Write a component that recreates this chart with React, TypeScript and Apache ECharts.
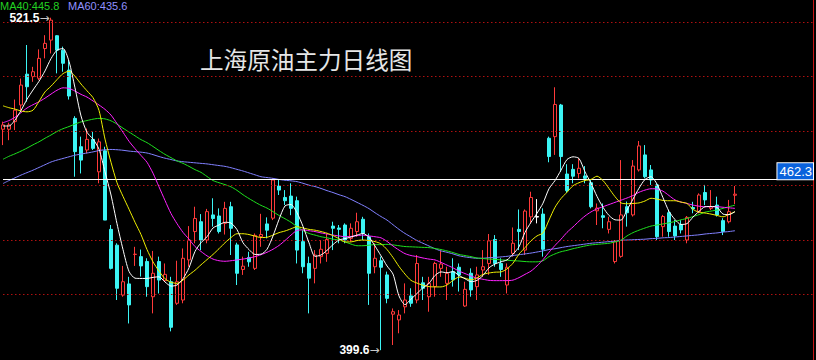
import React, { useEffect, useRef } from "react";
import * as echarts from "echarts";

// ---- data ----
const openP = [
  480.6, 480.6, 483.4, 489.5, 500.8, 499.9, 499.3, 510.2, 513.3, 514.9,
  509.6, 502.3, 484.6, 474.2, 473.0, 476.9, 465.0, 472.7, 443.9, 438.1,
  419.8, 423.9, 434.7, 433.9, 432.1, 419.2, 432.1, 425.1, 424.7, 416.8,
  418.0, 432.7, 443.1, 446.7, 440.0, 449.2, 448.8, 446.1, 452.2, 438.2,
  429.2, 433.6, 429.6, 441.2, 445.9, 448.0, 459.8, 455.6, 456.1, 454.4,
  439.4, 431.4, 429.6, 433.9, 435.1, 445.1, 444.4, 445.5, 440.6, 443.1,
  447.6, 441.2, 430.2, 432.4, 427.2, 412.8, 410.7, 415.5, 419.5, 418.0,
  424.3, 419.2, 422.9, 429.6, 424.1, 428.4, 430.0, 415.8, 427.8, 422.9,
  429.0, 431.4, 440.2, 431.4, 423.5, 435.1, 443.9, 436.3, 448.5, 448.4,
  449.5, 477.3, 477.9, 489.5, 464.2, 465.9, 464.4, 463.5, 461.0, 450.7,
  448.9, 443.9, 432.1, 434.0, 452.2, 449.2, 465.7, 471.2, 465.7, 460.2,
  444.9, 450.0, 445.1, 445.7, 440.0, 451.9, 450.4, 457.4, 451.6, 452.8,
  447.1, 446.7, 456.4,
];
const closeP = [
  482.2, 482.2, 487.6, 496.8, 496.2, 501.7, 506.6, 512.1, 520.6, 509.6,
  504.8, 492.8, 472.4, 469.3, 476.9, 473.6, 476.0, 447.3, 429.6, 422.3,
  424.7, 416.2, 434.8, 430.5, 422.9, 427.8, 425.3, 427.4, 408.0, 424.7,
  433.3, 440.0, 447.9, 440.0, 450.4, 447.9, 443.1, 451.6, 444.3, 427.8,
  430.4, 432.0, 441.7, 442.0, 443.6, 462.0, 458.3, 454.4, 451.6, 436.3,
  430.2, 426.0, 434.5, 436.6, 440.2, 444.3, 443.9, 440.0, 444.3, 446.7,
  442.4, 427.8, 433.3, 430.0, 418.6, 413.7, 412.5, 418.0, 416.8, 431.4,
  422.3, 424.1, 431.4, 431.2, 427.8, 425.4, 427.2, 421.9, 421.7, 427.2,
  430.2, 439.7, 431.4, 429.2, 430.0, 438.8, 443.1, 450.6, 455.6, 448.6,
  436.6, 470.6, 489.7, 470.6, 458.1, 463.4, 466.3, 462.6, 452.2, 451.7,
  448.3, 446.7, 439.4, 449.2, 450.0, 467.1, 474.5, 463.2, 462.0, 441.2,
  448.6, 443.1, 441.5, 443.7, 448.3, 451.4, 456.5, 454.7, 452.2, 449.2,
  443.1, 450.4, 456.8,
];
const lowP = [
  474.8, 476.6, 480.3, 487.6, 490.7, 498.0, 498.6, 506.6, 508.4, 501.1,
  501.7, 491.5, 463.2, 464.4, 471.8, 473.0, 460.8, 447.3, 429.2, 418.0,
  419.2, 409.4, 430.5, 426.6, 419.2, 413.1, 420.4, 424.7, 406.5, 416.2,
  416.8, 430.2, 438.8, 436.3, 438.8, 444.9, 442.4, 442.0, 434.5, 423.5,
  427.2, 430.2, 429.0, 437.5, 440.6, 447.3, 456.5, 452.8, 449.1, 431.4,
  427.8, 413.1, 424.1, 431.4, 432.0, 436.3, 438.8, 438.8, 439.4, 441.2,
  440.0, 416.2, 427.8, 399.6, 416.8, 401.5, 405.8, 413.1, 415.5, 416.8,
  418.0, 413.7, 419.2, 426.5, 418.0, 422.9, 421.1, 415.5, 419.2, 418.0,
  426.5, 427.2, 430.2, 426.5, 420.4, 433.9, 436.3, 434.5, 446.1, 446.1,
  433.9, 468.5, 471.2, 465.0, 457.3, 460.8, 462.6, 460.8, 451.6, 445.5,
  444.3, 442.4, 431.4, 433.5, 444.9, 448.6, 465.1, 462.6, 460.2, 440.0,
  441.2, 441.2, 440.0, 442.4, 438.8, 449.8, 449.8, 452.8, 451.0, 448.6,
  441.8, 446.1, 453.2,
];
const highP = [
  483.4, 483.0, 491.5, 499.2, 511.5, 503.5, 509.9, 515.1, 521.5, 515.1,
  510.9, 506.0, 485.4, 477.9, 480.9, 479.7, 477.2, 474.2, 445.5, 438.8,
  430.5, 426.5, 437.5, 436.5, 433.3, 436.0, 433.9, 431.4, 426.5, 432.4,
  436.9, 445.1, 452.2, 449.5, 451.4, 455.3, 451.6, 454.0, 454.0, 439.0,
  433.9, 435.7, 442.4, 449.6, 448.3, 462.6, 462.0, 458.3, 460.8, 455.9,
  443.6, 433.9, 436.3, 440.0, 442.2, 446.7, 445.5, 446.1, 446.1, 450.0,
  448.5, 442.4, 438.8, 433.9, 428.4, 414.9, 414.3, 424.1, 422.3, 434.5,
  426.5, 426.5, 432.0, 436.1, 430.2, 433.3, 431.4, 424.7, 429.6, 430.2,
  436.3, 442.2, 441.8, 433.3, 431.4, 444.6, 451.2, 451.2, 457.7, 455.0,
  451.6, 477.9, 496.0, 489.9, 467.8, 467.8, 469.9, 467.1, 462.0, 453.4,
  453.4, 448.5, 440.0, 469.3, 454.1, 469.3, 476.3, 474.8, 467.5, 460.8,
  449.2, 451.0, 447.3, 447.3, 448.8, 454.0, 457.1, 460.2, 458.3, 455.9,
  448.0, 454.7, 459.8,
];

const ma5 = [
  481.8, 481.8, 484.0, 487.5, 491.6, 495.0, 498.2, 502.0, 506.5, 509.6,
  510.2, 505.5, 495.8, 485.5, 479.5, 477.0, 473.3, 465.0, 456.5, 446.0,
  436.5, 428.5, 426.0, 425.9, 425.9, 426.3, 426.5, 424.6, 423.1, 423.5,
  425.8, 429.8, 435.8, 439.0, 441.2, 444.4, 445.5, 446.5, 446.2, 443.8,
  439.0, 436.5, 434.7, 434.8, 436.6, 441.5, 447.5, 452.5, 453.0, 450.0,
  445.0, 439.0, 434.0, 434.5, 436.2, 438.3, 440.0, 440.5, 441.1, 441.8,
  442.4, 441.0, 437.8, 434.2, 430.5, 427.5, 419.5, 416.3, 418.3, 420.4,
  422.5, 424.1, 427.0, 428.3, 428.0, 428.4, 427.0, 425.8, 424.7, 425.2,
  427.0, 429.8, 431.2, 432.0, 432.7, 434.8, 437.5, 442.8, 446.5, 449.8,
  453.5, 458.8, 461.8, 465.6, 469.5, 470.5, 469.9, 465.0, 460.8, 456.0,
  452.0, 449.0, 447.4, 447.3, 451.0, 455.0, 459.0, 462.2, 463.2, 460.5,
  455.5, 450.5, 447.5, 445.7, 446.0, 448.4, 450.5, 452.2, 452.3, 452.0,
  449.5, 449.3, 450.4,
];
const ma10 = [
  489.2, 488.5, 488.0, 487.3, 487.0, 487.6, 490.8, 494.3, 496.4, 498.8,
  501.0, 501.9, 500.0, 497.2, 494.7, 492.2, 487.5, 477.0, 468.5, 461.0,
  456.0, 451.3, 446.5, 442.0, 436.5, 432.0, 428.6, 425.8, 424.5, 424.1,
  425.3, 427.2, 428.9, 430.9, 432.8, 434.7, 436.8, 439.0, 440.9, 442.3,
  442.3, 442.0, 441.4, 440.9, 441.0, 441.8, 442.7, 443.3, 444.1, 444.9,
  444.4, 443.9, 443.6, 443.1, 442.5, 441.6, 440.5, 439.3, 439.3, 439.8,
  440.0, 439.8, 439.4, 438.6, 436.5, 433.6, 430.3, 427.5, 425.2, 424.2,
  423.4, 422.9, 422.8, 422.8, 423.5, 425.2, 426.4, 426.0, 425.4, 426.1,
  427.4, 427.9, 428.2, 428.3, 429.4, 431.5, 434.8, 437.2, 439.7, 441.5,
  442.6, 447.3, 452.0, 455.2, 457.5, 459.9, 461.0, 461.8, 462.2, 463.4,
  461.8, 458.9, 455.9, 453.6, 453.3, 453.4, 453.6, 454.3, 455.3, 455.0,
  454.5, 454.4, 454.4, 453.9, 453.4, 451.2, 450.2, 449.9, 449.5, 449.0,
  448.5, 449.4, 450.4,
];
const ma20 = [
  483.0, 483.8, 485.0, 486.7, 488.4, 489.6, 490.7, 492.0, 493.5, 494.9,
  495.8, 495.6, 494.6, 493.4, 492.4, 491.0, 489.5, 487.9, 485.8, 482.7,
  479.5, 476.2, 473.5, 471.0, 468.5, 464.5, 459.5, 454.5, 449.7, 446.0,
  442.8, 440.3, 437.6, 435.8, 434.2, 433.0, 432.4, 432.2, 432.4, 432.7,
  433.0, 433.4, 433.9, 434.6, 435.5, 436.6, 438.0, 439.8, 441.8, 443.5,
  443.7, 443.4, 443.1, 442.6, 442.2, 441.8, 441.5, 441.2, 441.3, 441.6,
  441.8, 441.5, 441.2, 440.8, 439.5, 437.8, 436.3, 435.0, 434.3, 433.9,
  433.4, 433.0, 432.7, 431.8, 430.8, 429.8, 428.6, 427.7, 426.8, 426.0,
  425.6, 425.2, 425.1, 425.1, 425.1, 425.3, 426.2, 427.4, 428.6, 430.5,
  432.8, 435.5, 438.0, 440.3, 442.8, 444.8, 446.9, 448.8, 450.3, 451.4,
  452.2, 453.0, 453.8, 454.6, 455.4, 456.3, 457.5, 458.3, 458.8, 458.7,
  457.9, 456.3, 454.7, 453.9, 453.4, 452.8, 452.4, 452.2, 452.2, 452.2,
  452.0, 451.8, 451.6,
];
const ma40 = [
  469.6, 470.7, 471.6, 472.6, 473.7, 474.9, 476.0, 477.3, 478.5, 479.8,
  480.8, 481.6, 482.5, 483.3, 483.8, 484.3, 484.6, 484.4, 483.7, 482.5,
  481.0, 479.6, 478.2, 476.8, 475.7, 474.3, 472.8, 471.4, 470.2, 469.0,
  468.1, 467.0, 465.8, 464.8, 463.3, 461.8, 461.0, 460.3, 459.5, 458.2,
  456.6, 455.2, 453.9, 452.7, 451.7, 450.4, 449.0, 447.8, 446.5, 444.9,
  443.5, 442.4, 441.8, 441.2, 440.8, 440.3, 440.0, 439.3, 438.5, 437.9,
  437.9, 438.1, 438.3, 438.3, 438.4, 438.2, 437.9, 437.6, 437.5, 437.4,
  437.3, 437.2, 436.9, 436.5, 436.0, 435.4, 434.7, 434.3, 433.9, 433.4,
  433.2, 433.0, 432.9, 432.7, 432.6, 432.4, 432.3, 432.1, 432.0, 432.0,
  432.4, 433.9, 434.9, 435.7, 436.2, 436.8, 437.3, 437.8, 438.2, 438.4,
  438.6, 438.8, 439.3, 439.9, 441.5, 442.7, 443.6, 444.4, 445.1, 445.5,
  445.9, 446.3, 446.8, 447.4, 447.9, 448.6, 449.3, 450.2, 450.6, 451.0,
  451.6, 452.2, 452.8,
];
const ma60 = [
  460.7, 461.8, 462.8, 463.8, 464.7, 465.6, 466.6, 467.6, 468.6, 469.3,
  469.9, 470.5, 471.1, 471.5, 471.9, 472.3, 472.8, 473.1, 473.2, 473.1,
  472.9, 472.6, 472.4, 472.2, 471.9, 471.3, 470.6, 470.0, 469.5, 469.0,
  468.7, 468.5, 468.3, 468.1, 467.9, 467.6, 467.3, 467.0, 466.5, 465.9,
  465.3, 464.6, 463.9, 463.2, 462.9, 462.6, 462.2, 461.9, 461.7, 461.4,
  460.8, 460.1, 459.6, 458.9, 458.1, 457.4, 456.6, 455.9, 454.9, 453.8,
  452.7, 451.5, 450.0, 448.6, 447.3, 445.6, 443.9, 442.4, 441.1, 439.8,
  438.8, 437.8, 436.8, 436.0, 435.5, 434.9, 434.2, 433.8, 433.5, 433.3,
  433.3, 433.5, 433.6, 433.8, 434.0, 434.3, 434.6, 434.9, 435.2, 435.6,
  436.0, 436.5, 436.8, 437.2, 437.6, 437.9, 438.2, 438.5, 438.8, 439.0,
  439.2, 439.4, 439.6, 439.9, 440.0, 440.1, 440.2, 440.3, 440.5, 440.6,
  440.8, 440.9, 441.1, 441.3, 441.5, 441.7, 441.9, 442.2, 442.4, 442.6,
  442.9, 443.1, 443.4,
];

const TOTAL_SLOTS = 136; // candles plus empty space on the right
const categories = Array.from({ length: TOTAL_SLOTS }, (_, i) => `D${i + 1}`);
const gridLevels = [420, 440, 460, 480, 500, 520];
const refPrice = 462.3;
const highMark = { index: 8, value: 521.5 };
const lowMark = { index: 63, value: 399.6 };
const whiteCandles = [89];
const titleText = "上海原油主力日线图";
const legendItems = [
  { text: "MA40:445.8", color: "#22d022" },
  { text: "MA60:435.6", color: "#9090ff" },
];

const UP = "#ff3a3a";
const DOWN = "#3cf4f4";
const NUM_FONT = "'Liberation Sans', Arial, sans-serif";

export default function App() {
  const ref = useRef<HTMLDivElement>(null);

  useEffect(() => {
    if (!ref.current) return;
    const chart = echarts.init(ref.current, null, { renderer: "svg" });

    const candleData = openP.map((o, i) => {
      const v = [o, closeP[i], lowP[i], highP[i]];
      if (whiteCandles.includes(i)) {
        return {
          value: v,
          itemStyle: { color: "#fff", color0: "#fff", borderColor: "#fff", borderColor0: "#fff" },
        };
      }
      return v;
    });

    const markLabel = (p: any) => `{v|${p.value}}{a|→}`;
    const markRich = {
      v: { color: "#ffffff", fontSize: 12, fontWeight: "bold", fontFamily: NUM_FONT },
      a: { color: "#c8c8c8", fontSize: 12, fontFamily: "'DejaVu Sans', sans-serif" },
    };

    const maLine = (name: string, data: number[], color: string, z: number) => ({
      name,
      type: "line",
      data,
      symbol: "none",
      smooth: 0.25,
      z,
      silent: true,
      lineStyle: { color, width: 1 },
    });

    chart.setOption({
      animation: false,
      backgroundColor: "#000000",
      grid: { left: 3, right: 3, top: 0, bottom: 0 },
      xAxis: {
        type: "category",
        data: categories,
        boundaryGap: false,
        axisLine: { show: false },
        axisTick: { show: false },
        axisLabel: { show: false },
        splitLine: { show: false },
      },
      yAxis: {
        type: "value",
        position: "right",
        min: 396,
        max: 528,
        axisLine: { show: true, lineStyle: { color: "#c81414", width: 1 } },
        axisTick: { show: false },
        axisLabel: { show: false },
        splitLine: { show: false },
      },
      series: [
        {
          name: "levels",
          type: "line",
          data: [],
          z: 0,
          silent: true,
          markLine: {
            silent: true,
            symbol: "none",
            label: { show: false },
            lineStyle: { color: "#b01010", type: [1.5, 2.5], width: 1 },
            data: gridLevels.map((v) => ({ yAxis: v })),
          },
        },
        {
          name: "K",
          type: "candlestick",
          data: candleData,
          barWidth: 4,
          clip: false,
          z: 2,
          silent: true,
          itemStyle: {
            color: "#000000",
            color0: DOWN,
            borderColor: UP,
            borderColor0: DOWN,
            borderWidth: 1,
          },
          markPoint: {
            symbol: "rect",
            symbolSize: 1,
            itemStyle: { color: "rgba(0,0,0,0)" },
            label: {
              show: true,
              position: "left",
              distance: 1,
              formatter: markLabel,
              rich: markRich,
            },
            data: [
              { coord: [categories[highMark.index], highMark.value], value: highMark.value },
              { coord: [categories[lowMark.index], lowMark.value], value: lowMark.value },
            ],
          },
          markLine: {
            silent: true,
            symbol: "none",
            lineStyle: { color: "#ffffff", type: "solid", width: 1 },
            label: {
              show: true,
              position: "insideEndTop",
              distance: 0,
              formatter: () => String(refPrice),
              color: "#ffffff",
              fontSize: 13,
              fontFamily: NUM_FONT,
              backgroundColor: "#0a62dc",
              borderColor: "#ffffff",
              borderWidth: 1,
              padding: [2, 1, 1, 2],
            },
            data: [{ yAxis: refPrice }],
          },
        },
        maLine("MA60", ma60, "#8080ff", 3),
        maLine("MA40", ma40, "#1ee01e", 4),
        maLine("MA20", ma20, "#ff22ff", 5),
        maLine("MA10", ma10, "#f0f000", 6),
        maLine("MA5", ma5, "#ffffff", 7),
      ],
      graphic: [
        {
          type: "text",
          left: 200,
          top: 47,
          silent: true,
          style: {
            text: titleText,
            fill: "#e6e6e6",
            fontSize: 23.6,
            fontFamily: "'Noto Sans CJK SC', sans-serif",
          },
        },
        ...legendItems.map((it, k) => ({
          type: "text",
          x: k * 68,
          y: 0,
          silent: true,
          style: {
            text: it.text,
            fill: it.color,
            fontSize: 11,
            fontFamily: NUM_FONT,
            verticalAlign: "top",
          },
        })),
      ],
    });

    return () => chart.dispose();
  }, []);

  return (
    <div
      ref={ref}
      style={{ position: "fixed", left: 0, top: 0, width: 816, height: 360, background: "#000" }}
    />
  );
}
